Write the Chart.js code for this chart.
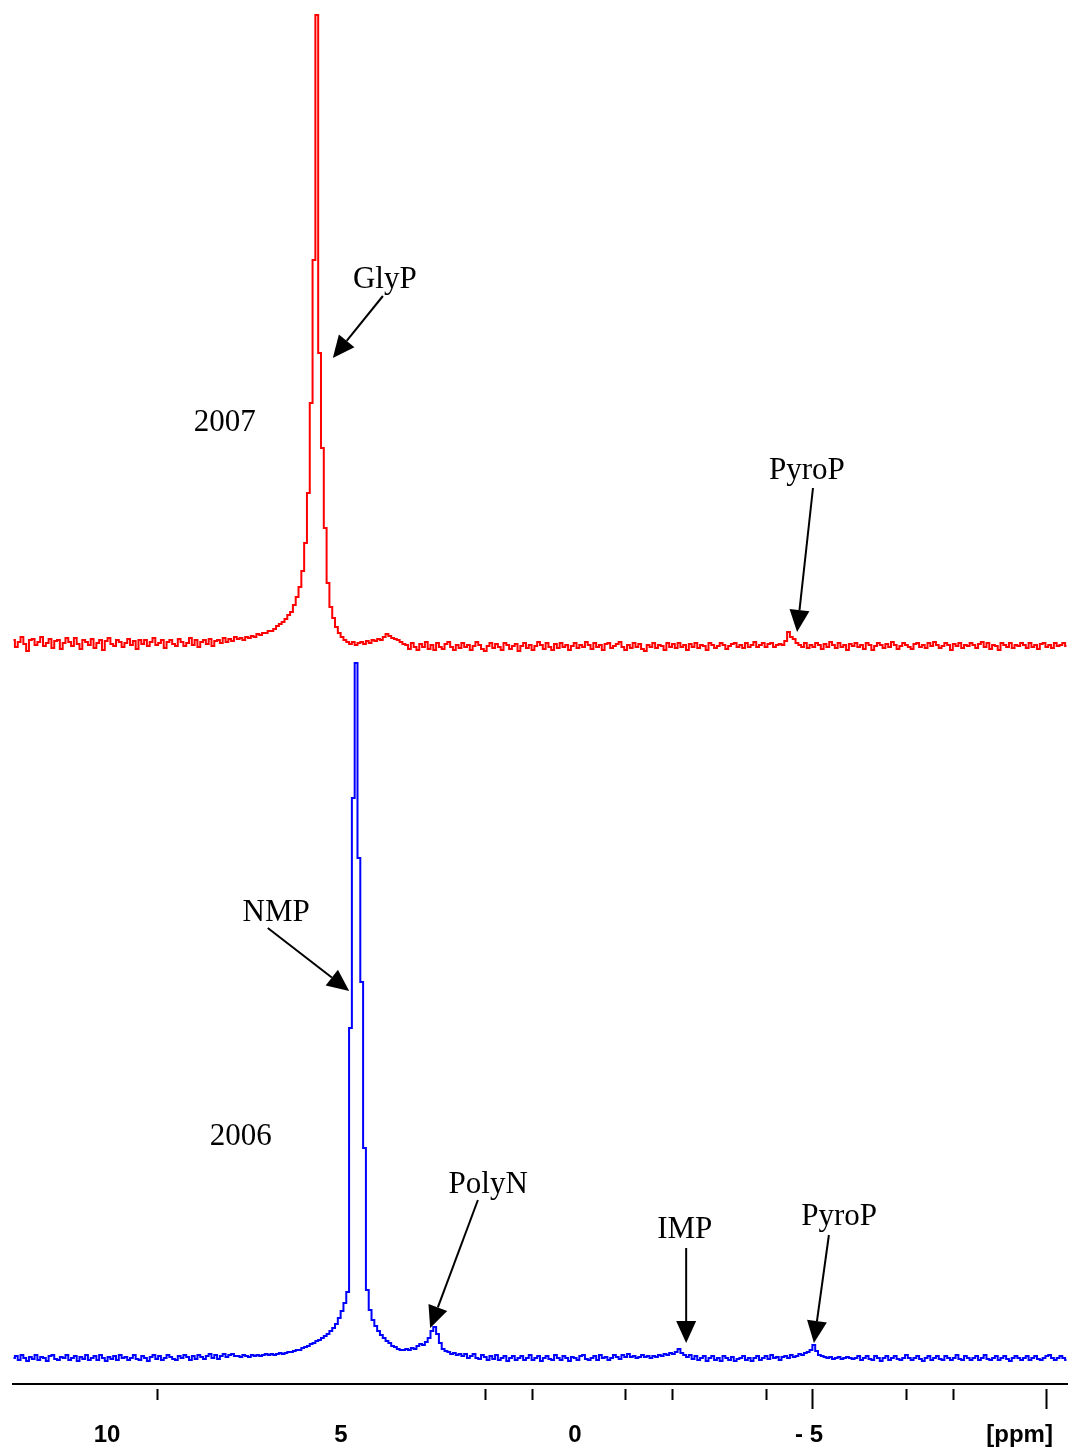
<!DOCTYPE html>
<html>
<head>
<meta charset="utf-8">
<title>31P NMR spectra 2006 / 2007</title>
<script src="https://cdn.jsdelivr.net/npm/chart.js@4.4.1/dist/chart.umd.min.js"></script>
<style>
  html, body { margin: 0; padding: 0; background: #fff; }
  #wrap { width: 1068px; height: 1450px; position: relative; }
</style>
</head>
<body>
<div id="wrap"><canvas id="nmrChart"></canvas></div>
<script>
// acquisition grid (ppm), one point per step
const ppmStart = 12.083;
const ppmStep = 0.06;

// 2007 spectrum, intensity above its own baseline
const spec2007 = [
  3,-4,1,6,-1,-8,3,4,-2,1,6,-3,0,4,-5,2,3,-6,0,5,
  1,-3,5,-1,-6,3,1,-2,4,-5,0,3,-7,2,5,-1,-3,3,1,-4,
  0,4,-2,2,-6,3,-1,3,-3,1,5,-2,0,3,-5,1,3,-1,-3,4,
  1,-3,0,5,-2,3,-4,1,3,-1,4,-3,2,3,0,5,1,4,2,6,
  4,5,3,6,5,7,6,9,8,10,10,12,12,14,17,19,21,24,28,31,
  38,46,56,72,100,150,240,383,628,290,195,115,60,36,25,16,10,6,3,1,
  -1,1,-2,0,1,-1,2,0,3,2,4,3,6,9,7,5,4,3,1,-1,
  -2,-6,0,-4,-7,-1,-4,1,-6,-2,-7,0,-4,-6,-1,1,-4,-7,-2,-5,
  0,-4,-2,-7,-3,1,-2,-6,-8,-3,0,-5,-1,-4,-7,0,-2,-6,-3,-1,
  -8,-3,0,-5,-2,-7,-3,1,-2,-6,0,-4,-7,-1,-5,0,-4,-2,-7,-3,
  0,-5,-2,-4,1,-2,-6,0,-4,-2,-7,-1,0,-5,-3,-1,1,-4,-7,-2,
  -5,0,-4,-1,-6,-8,-2,-4,0,-5,-2,-3,-7,0,-4,-1,-5,0,-4,-2,
  -7,-1,-4,0,-5,-2,-3,-7,0,-2,-5,-3,0,-2,-6,-3,-1,0,-4,-2,
  -5,0,-4,-2,1,-4,-2,0,-4,-1,0,-4,-2,-1,-2,2,11,6,4,0,
  -2,-4,0,-5,-2,-4,0,-2,-6,-1,-4,1,-2,-5,0,-4,-2,-7,-1,-3,
  0,-4,-2,-6,0,-2,-7,-3,0,-2,-5,-1,-4,1,-2,-6,-3,0,-2,-4,
  -6,-1,0,-4,-2,-5,0,-3,1,-2,-5,-3,0,-2,-7,-1,-3,0,-5,-2,
  -3,0,-2,-5,-1,1,-4,0,-6,-2,-3,-7,0,-2,-4,0,-5,-2,-3,0,
  -2,-5,0,-4,-2,-6,-1,0,-4,-2,-5,0,-3,-2,0,-3
];

// 2006 spectrum, intensity above its own baseline
const spec2006 = [
  0,2,-2,3,0,-3,1,-1,3,-2,1,0,-3,2,3,-1,-2,1,0,3,
  -2,0,2,-3,1,-1,3,-2,0,2,-2,3,0,-3,1,-1,2,-2,3,0,
  1,-2,0,3,-1,-2,2,0,-3,1,3,-1,2,-2,0,3,1,-1,-2,2,
  0,3,1,-2,2,-1,3,1,-1,2,4,0,3,-1,2,4,1,3,4,2,
  2,1,3,2,1,3,2,3,2,3,4,3,4,3,4,5,4,5,6,6,
  7,8,8,10,11,12,14,15,17,18,20,22,24,27,30,34,40,47,55,66,
  330,560,695,500,376,210,68,48,38,32,27,23,20,17,15,12,11,9,8,8,
  9,8,10,9,12,14,13,16,20,27,31,24,15,9,7,6,4,5,3,4,
  2,4,0,2,4,0,-1,3,1,-2,2,-1,3,-2,0,2,-3,0,2,-2,
  0,2,-2,0,3,-2,0,2,-3,0,2,-1,-2,3,0,-2,2,0,-3,1,
  0,-2,2,3,-1,-2,0,2,-2,3,0,1,-2,0,3,1,-1,3,1,4,
  1,2,0,1,3,1,2,0,2,1,3,2,4,3,5,4,6,9,5,3,
  1,3,-1,2,-2,0,2,-3,0,2,-2,0,-3,2,0,-2,1,-3,-1,0,
  2,-2,0,-3,0,2,-2,0,2,-1,3,0,1,-2,1,2,0,3,1,2,
  4,3,5,6,8,13,7,3,2,1,0,1,-1,0,1,-1,0,1,0,-1,
  0,2,-2,0,2,-1,-2,2,0,-3,0,2,-2,0,2,-1,-2,0,3,0,
  -2,0,2,-1,-3,0,2,-2,0,2,-1,-2,2,0,-2,0,3,-1,-2,2,
  0,-2,0,2,-2,0,3,-1,-2,0,2,-2,0,2,-1,-3,0,2,0,-2,
  0,2,-2,0,2,-1,-2,0,2,3,0,-2,0,2,0,-2
];

// vertical stacking of the two traces
const offset2007 = 741;
const offset2006 = 26;

// axis marks and labels
const tickPpm = [9, 2, 1, -1, -2, -4, -5, -7, -8, -10];
const majorPpm = [-5, -10];
const labelPpm = [10, 5, 0, -5, -9.5];
const labelText = ['10', '5', '0', '- 5', '[ppm]'];

// peak names and arrows, in (ppm, intensity)
const noteText = ['GlyP', '2007', 'PyroP', 'NMP', '2006', 'PolyN', 'IMP', 'PyroP'];
const noteAt = [[4.15, 1096], [7.57, 953], [-4.87, 905], [6.47, 463], [7.23, 239], [1.94, 191], [-2.26, 146], [-5.56, 159]];
const arrowFrom = [[4.19, 1088], [-5.0, 896], [6.65, 456], [2.16, 184], [-2.29, 136], [-5.34, 149]];
const arrowTo = [[5.26, 1026], [-4.66, 752], [4.91, 393], [3.18, 56], [-2.29, 41], [-5.02, 41]];

const ppm = spec2007.map((_, i) => ppmStart - i * ppmStep);
const toPoints = (spec, off) => spec.map((v, i) => ({ x: ppm[i], y: off + v }));

const notesPlugin = {
  id: 'peakNotes',
  afterDatasetsDraw(chart) {
    const { ctx } = chart;
    const xs = chart.scales.x, ys = chart.scales.y;
    ctx.save();
    ctx.fillStyle = '#000';
    ctx.strokeStyle = '#000';
    ctx.font = '31px "Liberation Serif", "Times New Roman", serif';
    ctx.textAlign = 'center';
    ctx.textBaseline = 'alphabetic';
    noteText.forEach((t, i) => {
      ctx.fillText(t, xs.getPixelForValue(noteAt[i][0]), ys.getPixelForValue(noteAt[i][1]));
    });
    // arrows: shaft plus filled head
    const head = 22, half = 10;
    ctx.lineWidth = 2;
    arrowFrom.forEach((f, i) => {
      const x1 = xs.getPixelForValue(f[0]), y1 = ys.getPixelForValue(f[1]);
      const x2 = xs.getPixelForValue(arrowTo[i][0]), y2 = ys.getPixelForValue(arrowTo[i][1]);
      const len = Math.hypot(x2 - x1, y2 - y1);
      const ux = (x2 - x1) / len, uy = (y2 - y1) / len;
      const bx = x2 - ux * head, by = y2 - uy * head;
      ctx.beginPath();
      ctx.moveTo(x1, y1);
      ctx.lineTo(bx, by);
      ctx.stroke();
      ctx.beginPath();
      ctx.moveTo(x2, y2);
      ctx.lineTo(bx - uy * half, by + ux * half);
      ctx.lineTo(bx + uy * half, by - ux * half);
      ctx.closePath();
      ctx.fill();
    });
    ctx.restore();
  }
};

const ctx = document.getElementById('nmrChart').getContext('2d');
new Chart(ctx, {
  type: 'line',
  data: {
    datasets: [
      {
        label: '2007',
        data: toPoints(spec2007, offset2007),
        borderColor: '#ff0000',
        borderWidth: 2,
        pointRadius: 0,
        stepped: 'middle'
      },
      {
        label: '2006',
        data: toPoints(spec2006, offset2006),
        borderColor: '#0000ff',
        borderWidth: 2,
        pointRadius: 0,
        stepped: 'middle'
      }
    ]
  },
  options: {
    responsive: true,
    maintainAspectRatio: false,
    animation: false,
    devicePixelRatio: 1,
    layout: { padding: { left: 13, right: 0, top: 0, bottom: 0 } },
    plugins: { legend: { display: false }, tooltip: { enabled: false } },
    scales: {
      x: {
        type: 'linear',
        position: 'bottom',
        reverse: true,
        min: -10.449,
        max: 12.094,
        weight: 0,
        border: { display: true, color: '#000', width: 2 },
        grid: {
          drawOnChartArea: false,
          drawTicks: true,
          tickLength: 26,
          tickWidth: 2,
          tickColor: '#000',
          tickBorderDash: (c) => majorPpm.includes(c.tick && c.tick.value) ? [0, 4, 20, 60] : [0, 4, 11, 60]
        },
        ticks: { display: false },
        afterBuildTicks: (scale) => { scale.ticks = tickPpm.map(v => ({ value: v })); },
        afterFit: (scale) => { scale.height = 26; }
      },
      x2: {
        type: 'linear',
        position: 'bottom',
        reverse: true,
        min: -10.449,
        max: 12.094,
        weight: 1,
        border: { display: false },
        grid: { display: false, drawTicks: false },
        ticks: {
          autoSkip: false,
          maxRotation: 0,
          padding: 11,
          labelOffset: -4,
          color: '#000',
          font: { family: '"Liberation Sans", Arial, sans-serif', size: 24, weight: 'bold' },
          callback: (v, i) => labelText[i]
        },
        afterBuildTicks: (scale) => { scale.ticks = labelPpm.map(v => ({ value: v })); },
        afterFit: (scale) => { scale.height = 40; }
      },
      y: {
        display: false,
        min: 0,
        max: 1384
      }
    }
  },
  plugins: [notesPlugin]
});
</script>
</body>
</html>
